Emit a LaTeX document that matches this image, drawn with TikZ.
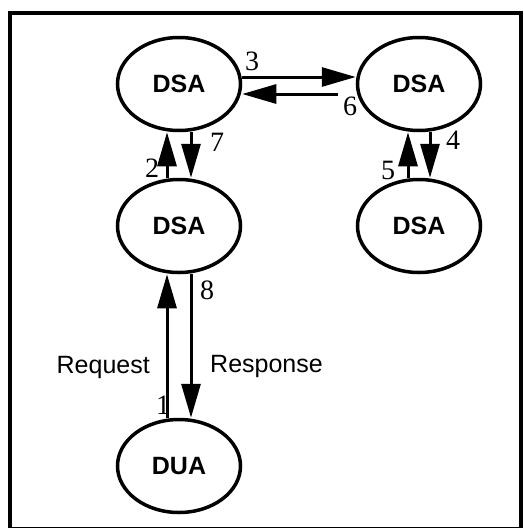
\documentclass[tikz,border=0pt]{standalone}
\usepackage{fontspec}
\setmainfont{Liberation Serif}
\setsansfont{Liberation Sans}
\usetikzlibrary{arrows.meta,shapes.geometric}

\begin{document}
\begin{tikzpicture}[x=1pt,y=-1pt,
  agent/.style={draw,ellipse,line width=3.5pt,minimum width=123pt,minimum height=93pt,
    inner sep=0pt,font=\sffamily\bfseries\fontsize{25}{25}\selectfont},
  msg/.style={line width=3pt,-{Triangle[length=34pt,width=19pt]}},
  num/.style={inner sep=0pt,font=\fontsize{28}{28}\selectfont},
  note/.style={inner sep=0pt,font=\sffamily\fontsize{25}{25}\selectfont}]
 \useasboundingbox (0,0) rectangle (523,528);
 \draw[line width=3.5pt] (10,13) rectangle (521,529);
 % agents
 \node[agent] (dsaA) at (179,84) {DSA};
 \node[agent] (dsaB) at (419,84) {DSA};
 \node[agent] (dsaC) at (179,226) {DSA};
 \node[agent] (dsaD) at (419,226) {DSA};
 \node[agent] (dua) at (179,466) {DUA};
 % chaining between the agents
 \draw[msg] ([xshift=-12pt]dua.north) -- ([xshift=-12pt]dsaC.south);
 \draw[msg] ([xshift=-12pt]dsaC.north) -- ([xshift=-12pt]dsaA.south);
 \draw[msg] ([yshift=7pt]dsaA.east) -- ([yshift=7pt]dsaB.west);
 \draw[msg] ([xshift=11pt]dsaB.south) -- ([xshift=11pt]dsaD.north);
 \draw[msg] ([xshift=-11pt]dsaD.north) -- ([xshift=-11pt]dsaB.south);
 \draw[msg] ([xshift=-18pt,yshift=-10pt]dsaB.west) -- ([yshift=-10pt]dsaA.east);
 \draw[msg] ([xshift=12pt]dsaA.south) -- ([xshift=12pt]dsaC.north);
 \draw[msg] ([xshift=12pt]dsaC.south) -- ([xshift=12pt]dua.north);
 % step numbers
 \node[num] (n1) at (163,405) {1};
 \node[num] (n2) at (152,168) {2};
 \node[num] (n3) at (252,61) {3};
 \node[num] (n4) at (453,140) {4};
 \node[num] (n5) at (388,170) {5};
 \node[num] (n6) at (350,106) {6};
 \node[num] (n7) at (217,142) {7};
 \node[num] (n8) at (207,290) {8};
 \node[note,anchor=base east] (req) at (150,373) {Request};
 \node[note,anchor=base west] (resp) at (210,372) {Response};
\end{tikzpicture}
\end{document}
